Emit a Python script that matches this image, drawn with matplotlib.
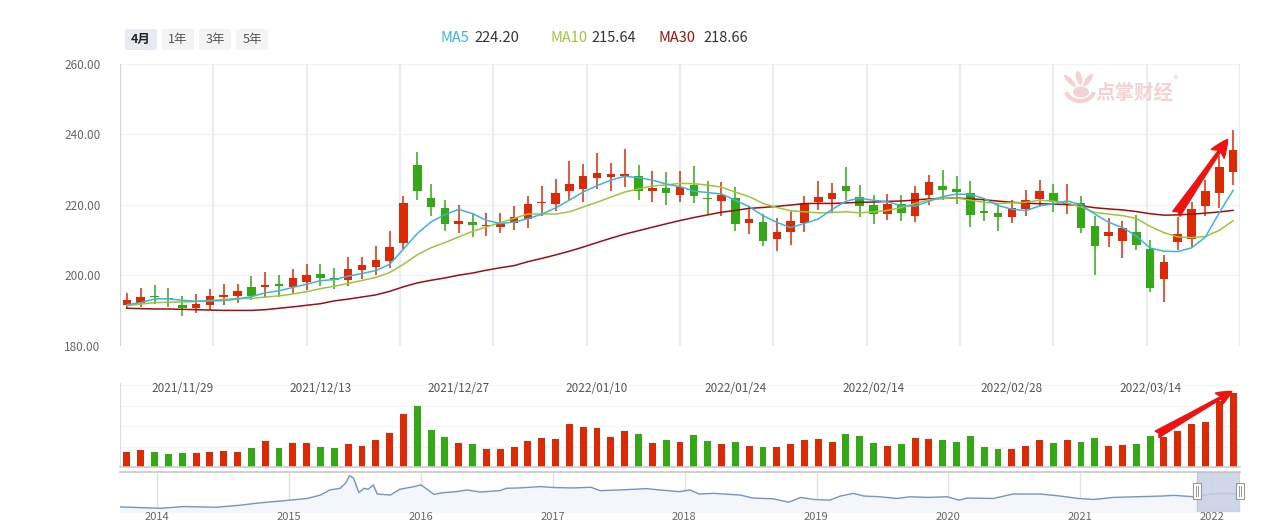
import numpy as np
import pandas as pd
import matplotlib.pyplot as plt
from matplotlib.patches import FancyBboxPatch, Rectangle, Ellipse, Arc

plt.rcParams['font.family'] = ['Noto Sans CJK SC', 'DejaVu Sans']

# daily candles, 2021/11/23 .. 2022/03/22
opens = [191.55, 192.3, 194.2, 193.5, 191.55, 190.7, 191.6, 193.8, 194.2, 196.7,
         196.7, 197.5, 196.7, 198.1, 200.4, 199.2, 198.65, 201.5, 202.35, 204.05,
         209.2, 231.3, 221.95, 219.1, 214.6, 215.1, 214.1, 213.8, 214.9, 216.0,
         220.5, 220.2, 223.9, 224.5, 227.6, 228.0, 228.1, 228.2, 223.9, 224.8,
         222.8, 225.6, 222.0, 221.1, 221.95, 214.85, 215.1, 210.3, 212.3, 214.85,
         220.8, 221.7, 225.4, 222.2, 220.0, 217.4, 220.2, 216.8, 222.8, 225.4,
         224.5, 223.4, 218.3, 217.7, 216.55, 218.8, 221.7, 223.4, 220.4, 220.5,
         214.0, 211.15, 209.7, 212.3, 207.5, 198.9, 209.45, 210.3, 219.7, 223.4,
         229.3]
closes = [192.97, 193.8, 193.9, 193.3, 190.8, 191.8, 194.1, 194.4, 195.5, 194.2,
          197.2, 196.95, 199.2, 200.1, 199.2, 198.8, 201.8, 202.9, 204.3, 208.0,
          220.5, 223.9, 219.4, 214.6, 215.4, 214.4, 214.4, 215.0, 216.55, 220.2,
          220.8, 223.4, 225.9, 228.2, 229.05, 228.8, 228.8, 223.9, 224.8, 223.4,
          225.1, 222.5, 221.8, 222.8, 214.6, 216.0, 209.7, 212.3, 215.4, 220.5,
          222.2, 223.4, 223.9, 219.7, 217.4, 220.2, 217.7, 223.4, 226.5, 224.2,
          223.65, 217.1, 217.7, 216.55, 219.1, 221.4, 223.9, 220.8, 220.7, 213.4,
          208.3, 212.3, 213.4, 208.6, 196.4, 203.8, 211.7, 218.8, 223.9, 230.75,
          235.6]
highs = [195.15, 196.4, 197.2, 196.4, 194.1, 194.7, 196.1, 197.5, 197.5, 199.8,
         200.9, 200.1, 201.8, 203.2, 203.2, 202.1, 205.2, 205.2, 208.3, 212.6,
         222.5, 235.0, 225.9, 221.4, 219.9, 217.7, 217.7, 217.7, 219.7, 222.5,
         225.4, 227.35, 232.5, 231.6, 234.7, 231.9, 235.9, 231.3, 229.6, 229.3,
         229.6, 231.0, 226.8, 226.5, 225.1, 219.7, 217.4, 216.3, 218.3, 222.5,
         226.8, 226.2, 230.75, 225.6, 222.8, 223.1, 222.8, 225.4, 228.5, 229.9,
         228.2, 226.8, 221.95, 220.2, 221.4, 224.2, 227.1, 225.9, 225.9, 222.5,
         216.8, 216.3, 215.4, 217.1, 210.0, 205.8, 216.55, 220.8, 227.1, 233.9,
         241.3]
lows = [190.6, 191.1, 191.8, 191.1, 188.5, 189.4, 190.1, 191.55, 192.2, 193.0,
        193.5, 193.8, 195.0, 195.8, 197.0, 196.1, 197.0, 198.9, 200.1, 202.1,
        207.6, 221.4, 216.8, 212.6, 212.0, 211.0, 211.25, 212.0, 212.9, 213.4,
        216.8, 218.3, 221.4, 220.8, 224.5, 223.9, 225.1, 221.4, 220.8, 220.0,
        220.8, 220.5, 217.4, 216.8, 212.6, 211.7, 208.3, 206.9, 208.6, 212.3,
        218.5, 218.0, 221.4, 216.55, 214.6, 215.7, 215.4, 215.1, 220.0, 221.4,
        220.2, 213.7, 215.4, 212.6, 214.85, 216.8, 219.7, 218.0, 217.4, 212.0,
        200.1, 208.0, 204.9, 207.2, 195.25, 192.4, 207.2, 208.0, 216.8, 219.1,
        225.6]
volumes = [0.75, 0.83, 0.75, 0.66, 0.71, 0.71, 0.75, 0.80, 0.75, 0.95,
           1.28, 0.95, 1.19, 1.19, 1.0, 0.95, 1.14, 1.04, 1.33, 1.67,
           2.58, 2.97, 1.81, 1.48, 1.19, 1.14, 0.90, 0.90, 1.0, 1.28,
           1.43, 1.38, 2.10, 1.96, 1.91, 1.48, 1.77, 1.62, 1.19, 1.33,
           1.24, 1.57, 1.28, 1.14, 1.24, 1.04, 1.0, 1.0, 1.14, 1.33,
           1.38, 1.24, 1.62, 1.52, 1.19, 1.04, 1.14, 1.43, 1.38, 1.33,
           1.24, 1.52, 1.0, 0.90, 0.90, 1.04, 1.33, 1.19, 1.33, 1.24,
           1.43, 1.04, 1.09, 1.14, 1.52, 1.48, 1.77, 2.10, 2.20, 3.21, 3.60]

# moving-average values before enough candles are on screen
ma5_head = [191.7, 192.3, 193.35, 193.4]
ma10_head = [191.4, 191.9, 192.3, 192.4, 192.5, 192.6, 192.9, 193.2, 193.5]
ma30_head = [190.7, 190.6, 190.5, 190.5, 190.4, 190.3, 190.2, 190.1, 190.1, 190.1,
             190.3, 190.7, 191.1, 191.55, 192.0, 192.8, 193.3, 193.9, 194.5, 195.5,
             196.8, 197.9, 198.65, 199.3, 200.1, 200.7, 201.5, 202.2, 202.8]
ma_names = ['MA5', 'MA10', 'MA30']
ma_last = [224.20, 215.64, 218.66]

date_labels = ['2021/11/29', '2021/12/13', '2021/12/27', '2022/01/10',
               '2022/01/24', '2022/02/14', '2022/02/28', '2022/03/14']
date_label_idx = [4, 14, 24, 34, 44, 54, 64, 74]

# navigator: long history line
nav_years = [2013.72, 2013.87, 2014.03, 2014.20, 2014.45, 2014.63, 2014.78, 2014.93,
             2015.01, 2015.14, 2015.24, 2015.31, 2015.39, 2015.43, 2015.46, 2015.49,
             2015.53, 2015.57, 2015.60, 2015.64, 2015.67, 2015.77, 2015.84, 2015.95,
             2016.00, 2016.02, 2016.10, 2016.17, 2016.27, 2016.35, 2016.45, 2016.60,
             2016.65, 2016.75, 2016.91, 2017.01, 2017.16, 2017.29, 2017.36, 2017.51,
             2017.71, 2017.81, 2017.96, 2018.04, 2018.11, 2018.22, 2018.42, 2018.52,
             2018.67, 2018.79, 2018.88, 2018.98, 2019.10, 2019.18, 2019.28, 2019.36,
             2019.48, 2019.61, 2019.71, 2019.84, 2019.99, 2020.08, 2020.14, 2020.34,
             2020.49, 2020.70, 2020.85, 2020.98, 2021.10, 2021.25, 2021.43, 2021.61,
             2021.71, 2021.86, 2021.99, 2022.07, 2022.21]
nav_values = [15, 13, 11, 16, 14, 20, 27, 32,
              35, 40, 50, 65, 70, 85, 107, 100,
              57, 70, 67, 80, 53, 50, 67, 75,
              80, 75, 52, 57, 60, 65, 59, 63,
              70, 71, 75, 72, 71, 73, 63, 65,
              69, 65, 60, 65, 53, 55, 50, 41,
              39, 29, 43, 37, 35, 47, 55, 47,
              45, 40, 45, 43, 45, 35, 41, 40,
              53, 53, 47, 40, 37, 43, 45, 47,
              49, 45, 53, 55, 53]
year_ticks = [2014, 2015, 2016, 2017, 2018, 2019, 2020, 2021, 2022]

RED = '#dd2a06'
GREEN = '#34a915'
C_MA5 = '#3bb5dc'
C_MA10 = '#9cc63c'
C_MA30 = '#9e0f0f'
PINK = '#f5d2d2'

n = len(closes)
idx = np.arange(n)
close_s = pd.Series(closes)
ma5 = close_s.rolling(5).mean().to_numpy()
ma5[:4] = ma5_head
ma10 = close_s.rolling(10).mean().to_numpy()
ma10[:9] = ma10_head
ma30 = close_s.rolling(30).mean().to_numpy()
ma30[:29] = ma30_head

o = np.array(opens)
c = np.array(closes)
up = c >= o
colors = [RED if u else GREEN for u in up]

W, H = 1262, 524
def box(l, t, r, b):
    return [l / W, 1 - b / H, (r - l) / W, (b - t) / H]

fig = plt.figure(figsize=(W / 100, H / 100), dpi=100)

# ---- main candle chart
ax = fig.add_axes(box(120, 64, 1240, 346))
ax.set_xlim(-0.5, n - 0.5)
ax.set_ylim(180, 260)
for y in [200, 220, 240, 260]:
    ax.axhline(y, color='#f3f3f3', lw=1, zorder=0)
for k in range(13):
    ax.axvline(-0.5 + k * n / 12, color='#cfd7e3' if k == 0 else '#e9eef4',
               lw=1.6, zorder=0)
ax.vlines(idx, lows, highs, colors=colors, lw=1.1, zorder=2)
body = np.maximum(np.abs(c - o), 0.3)
ax.bar(idx, body, bottom=np.minimum(o, c), width=0.62, color=colors, zorder=3)
ax.plot(idx, ma30, color=C_MA30, lw=1.1, zorder=4)
ax.plot(idx, ma10, color=C_MA10, lw=1.1, zorder=4)
ax.plot(idx, ma5, color=C_MA5, lw=1.1, zorder=4)
ax.set_yticks([180, 200, 220, 240, 260])
ax.set_yticklabels([f'{v:.2f}' for v in [180, 200, 220, 240, 260]])
ax.tick_params(axis='y', length=0, pad=14, labelsize=8.5, labelcolor='#666666')
ax.set_xticks([])
for s in ax.spines.values():
    s.set_visible(False)
ax.annotate('', xy=(79.6, 238.6), xytext=(75.9, 217.5),
            arrowprops=dict(arrowstyle='fancy,head_length=0.9,head_width=0.8,tail_width=0.45',
                            color='#f01212', mutation_scale=14, shrinkA=0, shrinkB=0),
            zorder=6)

# watermark (logo + name), in pixel positions of the figure
ax.text((1134 - 120) / 1120, (346 - 93) / 282, '点掌财经', transform=ax.transAxes,
        fontsize=14, fontweight='bold', color=PINK, ha='center', va='center', zorder=1)
ax.text((1176 - 120) / 1120, (346 - 80) / 282, '®', transform=ax.transAxes, fontsize=6,
        color=PINK, ha='center', va='center', zorder=1)
for (px, py, w, h, ang) in [(1070, 81, 6, 13, 20), (1079, 78, 6, 14, 5),
                            (1088, 80, 6, 13, -15), (1081, 92, 16, 11, 0)]:
    fig.patches.append(Ellipse((px / W, 1 - py / H), w / W, h / H, angle=ang,
                               transform=fig.transFigure, facecolor=PINK,
                               edgecolor='none', zorder=1))
fig.patches.append(Arc((1080 / W, 1 - 90 / H), 28 / W, 22 / H, theta1=200, theta2=340,
                       transform=fig.transFigure, color=PINK, lw=3, zorder=1))

# ---- volume panel
axv = fig.add_axes(box(120, 383, 1240, 467.3))
axv.set_xlim(-0.5, n - 0.5)
axv.set_ylim(0, 84.3 / 20.6)
for y in [1, 2, 3, 4]:
    axv.axhline(y, color='#f5f5f5', lw=1, zorder=0)
axv.bar(idx, volumes, width=0.5, color=colors, zorder=2)
axv.set_xticks([])
axv.set_yticks([])
for s in ['top', 'right']:
    axv.spines[s].set_visible(False)
axv.spines['left'].set_color('#d8dee8')
axv.spines['bottom'].set_color('#c8ccd2')
axv.spines['bottom'].set_linewidth(1.2)
for lab, i in zip(date_labels, date_label_idx):
    axv.text(i, 0.94, lab, transform=axv.get_xaxis_transform(), ha='center',
             va='center', fontsize=8.5, color='#555555')
axv.annotate('', xy=(79.9, 3.68), xytext=(74.5, 1.6),
             arrowprops=dict(arrowstyle='fancy,head_length=0.9,head_width=0.8,tail_width=0.45',
                             color='#f01212', mutation_scale=12, shrinkA=0, shrinkB=0),
             zorder=6)

# ---- navigator
axn = fig.add_axes(box(120, 472, 1240, 512))
axn.set_xlim(2013.72, 2022.21)
axn.set_ylim(0, 118)
axn.fill_between(nav_years, nav_values, 0, color='#f3f6fb', zorder=1)
for yr in year_ticks:
    axn.axvline(yr, color='#e2e2e2', lw=1, zorder=0)
axn.plot(nav_years, nav_values, color='#7396c6', lw=1, zorder=2)
axn.axvspan(2021.885, 2022.21, facecolor='#c7d1e6', edgecolor='#bcc3cf', lw=1,
            alpha=0.85, zorder=3)
axn.set_xticks([])
axn.set_yticks([])
for s in ['left', 'right', 'bottom']:
    axn.spines[s].set_visible(False)
axn.spines['top'].set_color('#c8c8c8')
axn.spines['top'].set_linewidth(1.2)
for yr in year_ticks:
    fig.text((156.7 + (yr - 2014) * 131.9) / W, 1 - 512.5 / H, str(yr), ha='center',
             va='top', fontsize=8, color='#666666')
for hx in [1197, 1240]:
    fig.patches.append(Rectangle(((hx - 4) / W, 1 - 499 / H), 8 / W, 16 / H,
                                 transform=fig.transFigure, facecolor='white',
                                 edgecolor='#999999', lw=0.8, zorder=5))
    for dx in [-1.2, 1.2]:
        fig.lines.append(plt.Line2D([(hx + dx) / W] * 2, [1 - 496 / H, 1 - 486 / H],
                                    transform=fig.transFigure, color='#999999', lw=0.7,
                                    zorder=6))

# ---- range buttons
buttons = ['4月', '1年', '3年', '5年']
for k, lab in enumerate(buttons):
    l = 125 + k * 37
    sel = k == 0
    fig.patches.append(FancyBboxPatch((l / W, 1 - 50 / H), 32 / W, 21 / H,
                                      boxstyle='round,pad=0,rounding_size=0.003',
                                      transform=fig.transFigure,
                                      facecolor='#e6eaf4' if sel else '#f4f4f4',
                                      edgecolor='none'))
    fig.text((l + 16) / W, 1 - 39.5 / H, lab, ha='center', va='center', fontsize=9,
             color='#222222' if sel else '#555555',
             fontweight='bold' if sel else 'normal')

# ---- MA legend
for name, col, val, xpx, vx in zip(ma_names, [C_MA5, C_MA10, C_MA30], ma_last,
                                   [441, 550, 659], [474, 591, 703]):
    fig.text(xpx / W, 1 - 38 / H, name, ha='left', va='center', fontsize=10.5, color=col)
    fig.text(vx / W, 1 - 38 / H, f'{val:.2f}', ha='left', va='center', fontsize=10.5,
             color='#333333')

fig.savefig('out.png', dpi=100, facecolor='white')
